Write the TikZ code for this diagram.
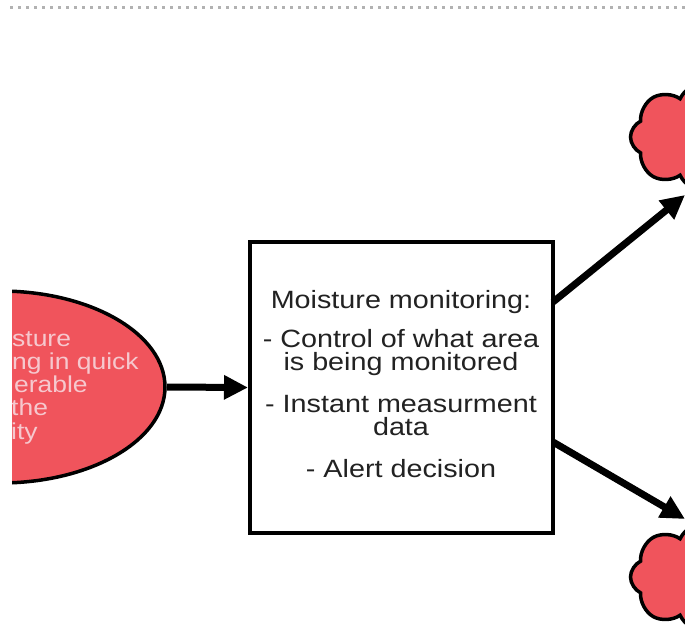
\documentclass[tikz,border=0pt]{standalone}
\usepackage{fontspec}
\newfontfamily\slidefont[FakeStretch=1.15]{Liberation Sans}
\usetikzlibrary{shapes.geometric,shapes.symbols,arrows.meta}
\definecolor{slidered}{RGB}{240,84,92}
\definecolor{palepink}{RGB}{246,200,206}
\definecolor{textgray}{RGB}{34,34,34}
\tikzset{
  bigarrow/.style={line width=7pt,-{Triangle[length=24pt,width=23pt]}},
  cloudshape/.style={cloud,cloud puffs=8,cloud puff arc=130,aspect=1.35,
    minimum width=155pt,minimum height=112pt,draw=black,line width=3.5pt,fill=slidered},
  boxtext/.style={anchor=base,text=textgray,font=\slidefont\fontsize{25}{25}\selectfont,inner sep=0pt},
  elltext/.style={anchor=base west,text=palepink,font=\slidefont\fontsize{23}{23}\selectfont,inner sep=0pt}
}
\begin{document}
\begin{tikzpicture}[x=1pt,y=-1pt]
\useasboundingbox (0,0) rectangle (685,638);
\fill[white] (0,0) rectangle (685,638);
% dotted rule
\coordinate (rs) at (10,7);
\coordinate (re) at (685,7);
\draw[gray!60,line width=3pt,dash pattern=on 3pt off 5pt] (rs) -- (re);
% clipped shapes
\begin{scope}
\clip (12,0) rectangle (685,638);
\node[ellipse,draw=black,line width=3.5pt,fill=slidered,minimum width=330pt,minimum height=192pt,inner sep=0pt] (ell) at (0,387) {};
\node[elltext] (e1) at (12,346) {sture};
\node[elltext] (e2) at (12,369) {ng in quick};
\node[elltext] (e3) at (14,392) {erable};
\node[elltext] (e4) at (11,415) {the};
\node[elltext] (e5) at (11,439) {ity};
\node[cloudshape] (c1) at (708,137) {};
\node[cloudshape] (c2) at (708,577) {};
\end{scope}
% box
\node[draw=black,line width=4pt,minimum width=303pt,minimum height=291pt,inner sep=0pt] (box) at (401.5,387.5) {};
\node[boxtext] (t1) at (401,308) {Moisture monitoring:};
\node[boxtext] (t2) at (401,347) {- Control of what area};
\node[boxtext] (t3) at (401,370) {is being monitored};
\node[boxtext] (t4) at (401,412) {- Instant measurment};
\node[boxtext] (t5) at (401,435) {data};
\node[boxtext] (t6) at (401,477) {- Alert decision};
% arrows
\coordinate (a1s) at (553,302);
\coordinate (a1e) at (685,195);
\coordinate (a2s) at (553,442);
\coordinate (a2e) at (685,519);
\draw[bigarrow] (ell.east) -- (box.west);
\draw[bigarrow] (a1s) -- (a1e);
\draw[bigarrow] (a2s) -- (a2e);
\end{tikzpicture}
\end{document}
